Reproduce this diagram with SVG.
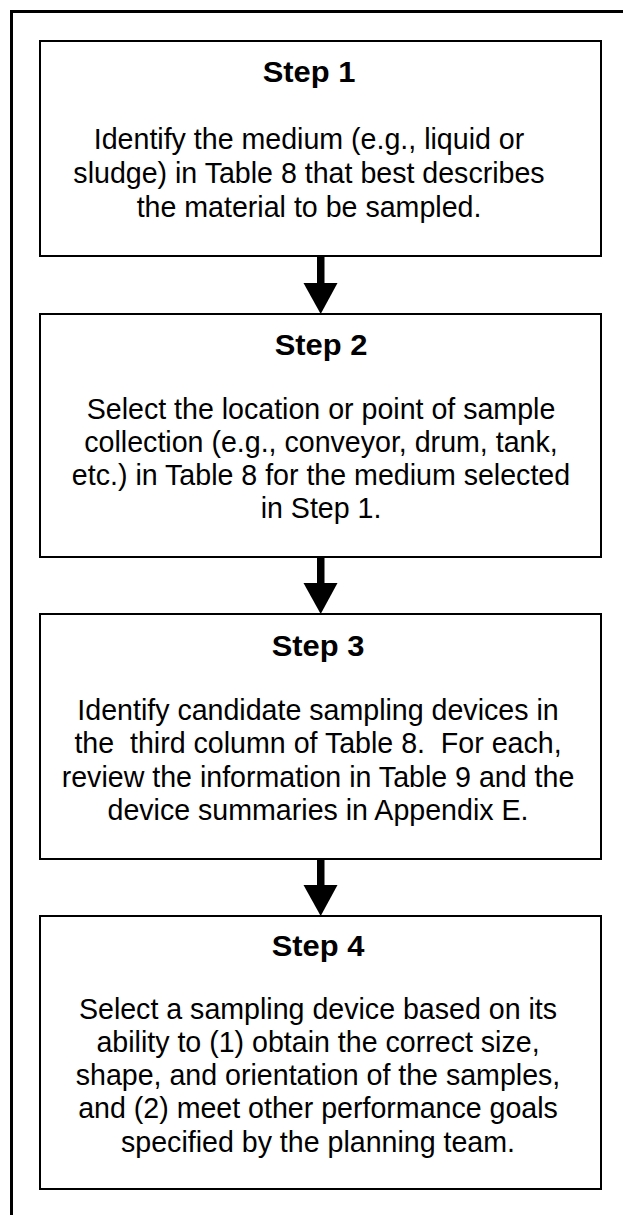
<svg xmlns="http://www.w3.org/2000/svg" width="623" height="1215" viewBox="0 0 623 1215">
<style>
.box{fill:#fff;stroke:#000;stroke-width:2}
.frame{fill:none;stroke:#000;stroke-width:3}
.title{font-family:"Liberation Sans",Arial,sans-serif;font-weight:bold;font-size:30px;text-anchor:middle;fill:#000}
.body{font-family:"Liberation Sans",Arial,sans-serif;font-size:29px;text-anchor:middle;fill:#000}
.arrow{fill:#000;stroke:none}
</style>
<rect width="623" height="1215" fill="#fff"/>
<path class="frame" d="M11.5,1215 V11.5 H623"/>
<g id="step1">
<rect class="box" x="40" y="41" width="561" height="215"/>
<text class="title" transform="translate(309,82) scale(1.03,1)">Step 1</text>
<g transform="translate(309,0) scale(0.986,1)">
<text class="body" x="0" y="149">Identify the medium (e.g., liquid or</text>
<text class="body" x="0" y="183">sludge) in Table 8 that best describes</text>
<text class="body" x="0" y="217">the material to be sampled.</text>
</g>
</g>
<g id="step2">
<rect class="box" x="40" y="314" width="561" height="243"/>
<text class="title" transform="translate(321,355) scale(1.03,1)">Step 2</text>
<g transform="translate(321,0) scale(0.986,1)">
<text class="body" x="0" y="419">Select the location or point of sample</text>
<text class="body" x="0" y="452">collection (e.g., conveyor, drum, tank,</text>
<text class="body" x="0" y="485">etc.) in Table 8 for the medium selected</text>
<text class="body" x="0" y="518">in Step 1.</text>
</g>
</g>
<g id="step3">
<rect class="box" x="40" y="614" width="561" height="245"/>
<text class="title" transform="translate(318,656) scale(1.03,1)">Step 3</text>
<g transform="translate(318,0) scale(0.986,1)">
<text class="body" x="0" y="720">Identify candidate sampling devices in</text>
<text class="body" x="0" y="753" xml:space="preserve">the  third column of Table 8.  For each,</text>
<text class="body" x="0" y="787">review the information in Table 9 and the</text>
<text class="body" x="0" y="820">device summaries in Appendix E.</text>
</g>
</g>
<g id="step4">
<rect class="box" x="40" y="916" width="561" height="273"/>
<text class="title" transform="translate(318,956) scale(1.03,1)">Step 4</text>
<g transform="translate(318,0) scale(0.986,1)">
<text class="body" x="0" y="1019">Select a sampling device based on its</text>
<text class="body" x="0" y="1052">ability to (1) obtain the correct size,</text>
<text class="body" x="0" y="1085">shape, and orientation of the samples,</text>
<text class="body" x="0" y="1118">and (2) meet other performance goals</text>
<text class="body" x="0" y="1152">specified by the planning team.</text>
</g>
</g>
<g id="connectors">
<rect class="arrow" x="317" y="256" width="7.5" height="28"/>
<polygon class="arrow" points="303.5,283 337.5,283 320.7,314"/>
<rect class="arrow" x="317" y="557" width="7.5" height="27"/>
<polygon class="arrow" points="303.5,583 337.5,583 320.7,614"/>
<rect class="arrow" x="317" y="859" width="7.5" height="27"/>
<polygon class="arrow" points="303.5,885 337.5,885 320.7,916"/>
</g>
</svg>
